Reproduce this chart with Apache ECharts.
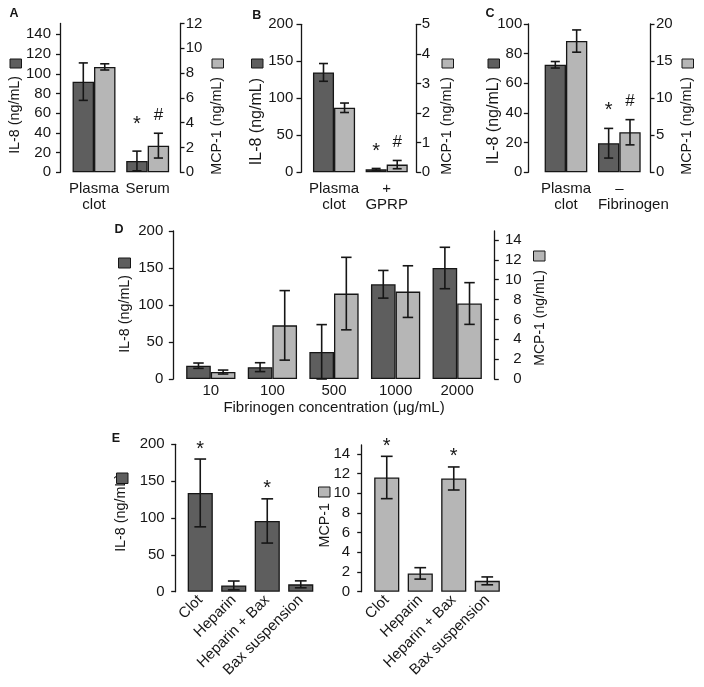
<!DOCTYPE html>
<html><head><meta charset="utf-8">
<script src="https://cdn.jsdelivr.net/npm/echarts@6/dist/echarts.min.js"></script>
<style>html,body{margin:0;padding:0;background:#fff}#c{width:704px;height:687px}</style>
</head><body><div id="c"></div>
<script>
// ---------- DATA ----------
// Panel A
const catA = ['Plasma\nclot', 'Serum'];
const il8A = [92, 11.5];
const il8A_err = [19, 10];
const mcpA = [8.5, 2.15];
const mcpA_err = [0.25, 1.0];
const sigA_il8 = ['', '*'];
const sigA_mcp = ['', '#'];
const ticksA_il8 = [0, 20, 40, 60, 80, 100, 120, 140];
const ticksA_mcp = [0, 2, 4, 6, 8, 10, 12];
// Panel B
const catB = ['Plasma\nclot', '+\nGPRP'];
const il8B = [135, 4];
const il8B_err = [12, 1.2];
const mcpB = [2.18, 0.26];
const mcpB_err = [0.16, 0.14];
const sigB_il8 = ['', '*'];
const sigB_mcp = ['', '#'];
const ticksB_il8 = [0, 50, 100, 150, 200];
const ticksB_mcp = [0, 1, 2, 3, 4, 5];
// Panel C
const catC = ['Plasma\nclot', '\u2013\nFibrinogen'];
const il8C = [72.5, 19.6];
const il8C_err = [2.2, 10];
const mcpC = [17.7, 5.4];
const mcpC_err = [1.5, 1.7];
const sigC_il8 = ['', '*'];
const sigC_mcp = ['', '#'];
const ticksC_il8 = [0, 20, 40, 60, 80, 100];
const ticksC_mcp = [0, 5, 10, 15, 20];
// Panel D
const catD = ['10', '100', '500', '1000', '2000'];
const il8D = [18, 16, 36.5, 128, 150];
const il8D_err = [3.6, 6, 37, 18.7, 28];
const mcpD = [0.7, 5.4, 8.6, 8.8, 7.6];
const mcpD_err = [0.2, 3.5, 3.65, 2.6, 2.1];
const ticksD_il8 = [0, 50, 100, 150, 200];
const ticksD_mcp = [0, 2, 4, 6, 8, 10, 12, 14];
// Panel E
const catE = ['Clot', 'Heparin', 'Heparin + Bax', 'Bax suspension'];
const il8E = [134, 8.5, 96, 10];
const il8E_err = [46, 6, 30, 4.7];
const mcpE = [11.6, 1.86, 11.5, 1.1];
const mcpE_err = [2.15, 0.58, 1.17, 0.4];
const sigE_il8 = ['*', '', '*', ''];
const sigE_mcp = ['*', '', '*', ''];
const ticksE_il8 = [0, 50, 100, 150, 200];
const ticksE_mcp = [0, 2, 4, 6, 8, 10, 12, 14];

// ---------- STYLE ----------
const FONT = '"Liberation Sans", Arial, Helvetica, sans-serif';
const DARK = '#5e5e5e', LIGHT = '#b6b6b6', INK = '#161616';

const chart = echarts.init(document.getElementById('c'), null, {renderer: 'canvas'});

function catAxis(gi, cats, extra) {
  const base = {
    type: 'category', gridIndex: gi, data: cats,
    axisLine: {show: false}, axisTick: {show: false}, splitLine: {show: false},
    axisLabel: {color: INK, fontSize: 15, fontFamily: FONT, margin: 8, lineHeight: 16.5, interval: 0}
  };
  if (extra) {
    for (const k in extra) {
      if (typeof extra[k] === 'object' && base[k]) base[k] = Object.assign({}, base[k], extra[k]);
      else base[k] = extra[k];
    }
  }
  return base;
}
function valAxis(gi, pos, max, ticks, offset, margin, align) {
  const lbl = {color: INK, fontSize: 15, fontFamily: FONT, margin: margin, customValues: ticks};
  if (align) lbl.align = align;
  return {
    type: 'value', gridIndex: gi, position: pos, min: 0, max: max, offset: offset,
    axisLine: {show: true, lineStyle: {color: INK, width: 1.3}},
    axisTick: {show: true, inside: false, length: 4.5, lineStyle: {color: INK, width: 1.3}, customValues: ticks},
    axisLabel: lbl,
    splitLine: {show: false}
  };
}
function bar(xi, yi, data, color, gap) {
  return {
    type: 'bar', xAxisIndex: xi, yAxisIndex: yi, data: data,
    barGap: '0%', barCategoryGap: gap, silent: true, z: 2,
    itemStyle: {color: color, borderColor: INK, borderWidth: 1.3}
  };
}
function errBars(xi, yi, vals, errs, frac, capFrac) {
  return {
    type: 'custom', xAxisIndex: xi, yAxisIndex: yi, z: 5, silent: true,
    data: vals.map((v, i) => [i, v, errs[i]]),
    encode: {x: 0, y: 1},
    renderItem: function (params, api) {
      const i = api.value(0), v = api.value(1), e = api.value(2);
      const band = api.size([1, 0])[0];
      const pTop = api.coord([i, v + e]);
      const pBot = api.coord([i, Math.max(0, v - e)]);
      const x = pTop[0] + frac * band;
      const cap = capFrac * band / 2;
      const st = {stroke: INK, lineWidth: 1.6};
      return {type: 'group', children: [
        {type: 'line', shape: {x1: x, y1: pTop[1], x2: x, y2: pBot[1]}, style: st},
        {type: 'line', shape: {x1: x - cap, y1: pTop[1], x2: x + cap, y2: pTop[1]}, style: st},
        {type: 'line', shape: {x1: x - cap, y1: pBot[1], x2: x + cap, y2: pBot[1]}, style: st}
      ]};
    }
  };
}

const option = {
  animation: false,
  backgroundColor: '#ffffff',
  textStyle: {fontFamily: FONT},
  grid: [
    {left: 67.2, top: 23.5, width: 107.3, height: 148.8},
    {left: 307.7, top: 24.3, width: 105.3, height: 148},
    {left: 539.3, top: 24, width: 106.7, height: 148.3},
    {left: 180, top: 231, width: 308, height: 148},
    {left: 183.5, top: 444.3, width: 134, height: 147.4},
    {left: 370, top: 445, width: 134, height: 146.7}
  ],
  xAxis: [
    catAxis(0, catA),
    catAxis(1, catB),
    catAxis(2, catC, {axisLabel: {
      formatter: function (v) { return v.replace('Fibrinogen', '{f|Fibrinogen}'); },
      rich: {f: {fontSize: 15, fontFamily: FONT, color: INK, lineHeight: 16.5, padding: [0, 0, 0, 28]}}
    }}),
    catAxis(3, catD, {axisLabel: {margin: 4}, name: 'Fibrinogen concentration (\u03bcg/mL)', nameLocation: 'middle', nameGap: 20,
      nameTextStyle: {color: INK, fontSize: 15, fontFamily: FONT}}),
    catAxis(4, catE, {axisLabel: {rotate: 45, margin: 6}}),
    catAxis(5, catE, {axisLabel: {rotate: 45, margin: 6}})
  ],
  yAxis: [
    valAxis(0, 'left', 151, ticksA_il8, 6.7, 9.5),
    valAxis(0, 'right', 12, ticksA_mcp, 5.5, 5.7),
    valAxis(1, 'left', 200, ticksB_il8, 6.7, 7.7),
    valAxis(1, 'right', 5, ticksB_mcp, 3.7, 5),
    valAxis(2, 'left', 100, ticksC_il8, 11, 6),
    valAxis(2, 'right', 20, ticksC_mcp, 4, 6),
    valAxis(3, 'left', 200, ticksD_il8, 6.7, 10),
    valAxis(3, 'right', 14.9, ticksD_mcp, 6.3, 27.4, 'right'),
    valAxis(4, 'left', 200, ticksE_il8, 7.8, 11),
    valAxis(5, 'left', 14.9, ticksE_mcp, 8.3, 11.5)
  ],
  series: [
    bar(0, 0, il8A, DARK, '20%'), bar(0, 1, mcpA, LIGHT, '20%'),
    errBars(0, 0, il8A, il8A_err, -0.2, 0.17), errBars(0, 1, mcpA, mcpA_err, 0.2, 0.17),
    bar(1, 2, il8B, DARK, '20%'), bar(1, 3, mcpB, LIGHT, '20%'),
    errBars(1, 2, il8B, il8B_err, -0.2, 0.17), errBars(1, 3, mcpB, mcpB_err, 0.2, 0.17),
    bar(2, 4, il8C, DARK, '20%'), bar(2, 5, mcpC, LIGHT, '20%'),
    errBars(2, 4, il8C, il8C_err, -0.2, 0.17), errBars(2, 5, mcpC, mcpC_err, 0.2, 0.17),
    bar(3, 6, il8D, DARK, '20%'), bar(3, 7, mcpD, LIGHT, '20%'),
    errBars(3, 6, il8D, il8D_err, -0.2, 0.17), errBars(3, 7, mcpD, mcpD_err, 0.2, 0.17),
    bar(4, 8, il8E, DARK, '25%'), errBars(4, 8, il8E, il8E_err, 0, 0.35),
    bar(5, 9, mcpE, LIGHT, '25%'), errBars(5, 9, mcpE, mcpE_err, 0, 0.35)
  ]
};
chart.setOption(option);

// ---------- ANNOTATIONS ----------
const elements = [];
function letter(ch, x, y) {
  elements.push({type: 'text', x: x, y: y, silent: true,
    style: {text: ch, fontSize: 12.5, fontWeight: 'bold', fontFamily: FONT, fill: INK, align: 'center', verticalAlign: 'middle'}});
}
function yTitle(text, x, yEnd, size, color, sq) {
  elements.push({type: 'text', x: x, y: yEnd, rotation: Math.PI / 2, silent: true,
    style: {text: text, fontSize: size, fontFamily: FONT, fill: INK, align: 'right', verticalAlign: 'middle'}});
  elements.push({type: 'rect', silent: true, z: 10,
    shape: {x: sq[0], y: sq[1], width: sq[2], height: sq[3]},
    style: {fill: color, stroke: INK, lineWidth: 1}});
}
letter('A', 14, 14);
letter('B', 256.7, 15.5);
letter('C', 490, 14);
letter('D', 119, 229.5);
letter('E', 116, 439);

yTitle('IL-8 (ng/mL)', 15.5, 76, 14.3, DARK, [10, 59, 11.5, 9]);
yTitle('MCP-1 (ng/mL)', 217.5, 77, 14.3, LIGHT, [212, 59, 11.5, 9]);
yTitle('IL-8 (ng/mL)', 257, 78, 16, DARK, [251.5, 59, 11.5, 9]);
yTitle('MCP-1 (ng/mL)', 447.5, 77, 14.3, LIGHT, [442, 59, 11.5, 9]);
yTitle('IL-8 (ng/mL)', 493.5, 77, 16, DARK, [488, 59, 11.5, 9]);
yTitle('MCP-1 (ng/mL)', 687.5, 77, 14.3, LIGHT, [682, 59, 11.5, 9]);
yTitle('IL-8 (ng/mL)', 125, 275, 14.3, DARK, [118.5, 258, 12, 10]);
yTitle('MCP-1 (ng/mL)', 540, 270, 14, LIGHT, [533.5, 251, 11.5, 10]);
yTitle('IL-8 (ng/mL)', 121, 474, 14.3, DARK, [116.5, 473, 11.5, 10.5]);
yTitle('MCP-1', 325, 503, 14.3, LIGHT, [318.5, 487, 11.5, 10]);

function px(xi, yi, x, y) { return chart.convertToPixel({xAxisIndex: xi, yAxisIndex: yi}, [x, y]); }
function markText(ch, x, top) {
  const star = ch === '*';
  elements.push({type: 'text', x: x, y: top - (star ? 9 : 18), silent: true, z: 10,
    style: {text: ch, fontSize: star ? 20 : 17, fontFamily: FONT, fill: INK, align: 'center', verticalAlign: 'middle'}});
}
// grouped panels: markers sit above the taller whisker of the group
[
  [0, 0, 1, il8A, il8A_err, mcpA, mcpA_err, sigA_il8, sigA_mcp],
  [1, 2, 3, il8B, il8B_err, mcpB, mcpB_err, sigB_il8, sigB_mcp],
  [2, 4, 5, il8C, il8C_err, mcpC, mcpC_err, sigC_il8, sigC_mcp]
].forEach(function (g) {
  const [xi, yL, yR, L, Le, R, Re, sL, sR] = g;
  const band = px(xi, yL, 1, 0)[0] - px(xi, yL, 0, 0)[0];
  for (let i = 0; i < L.length; i++) {
    const tL = px(xi, yL, i, L[i] + Le[i]);
    const tR = px(xi, yR, i, R[i] + Re[i]);
    const top = Math.min(tL[1], tR[1]);
    if (sL[i]) markText(sL[i], tL[0] - 0.2 * band, top);
    if (sR[i]) markText(sR[i], tR[0] + 0.2 * band, top);
  }
});
[[4, 8, il8E, il8E_err, sigE_il8], [5, 9, mcpE, mcpE_err, sigE_mcp]].forEach(function (g) {
  const [xi, yi, V, E, S] = g;
  for (let i = 0; i < V.length; i++) {
    if (!S[i]) continue;
    const t = px(xi, yi, i, V[i] + E[i]);
    markText(S[i], t[0], t[1] - 1);
  }
});
chart.setOption({graphic: {elements: elements}});
</script></body></html>
